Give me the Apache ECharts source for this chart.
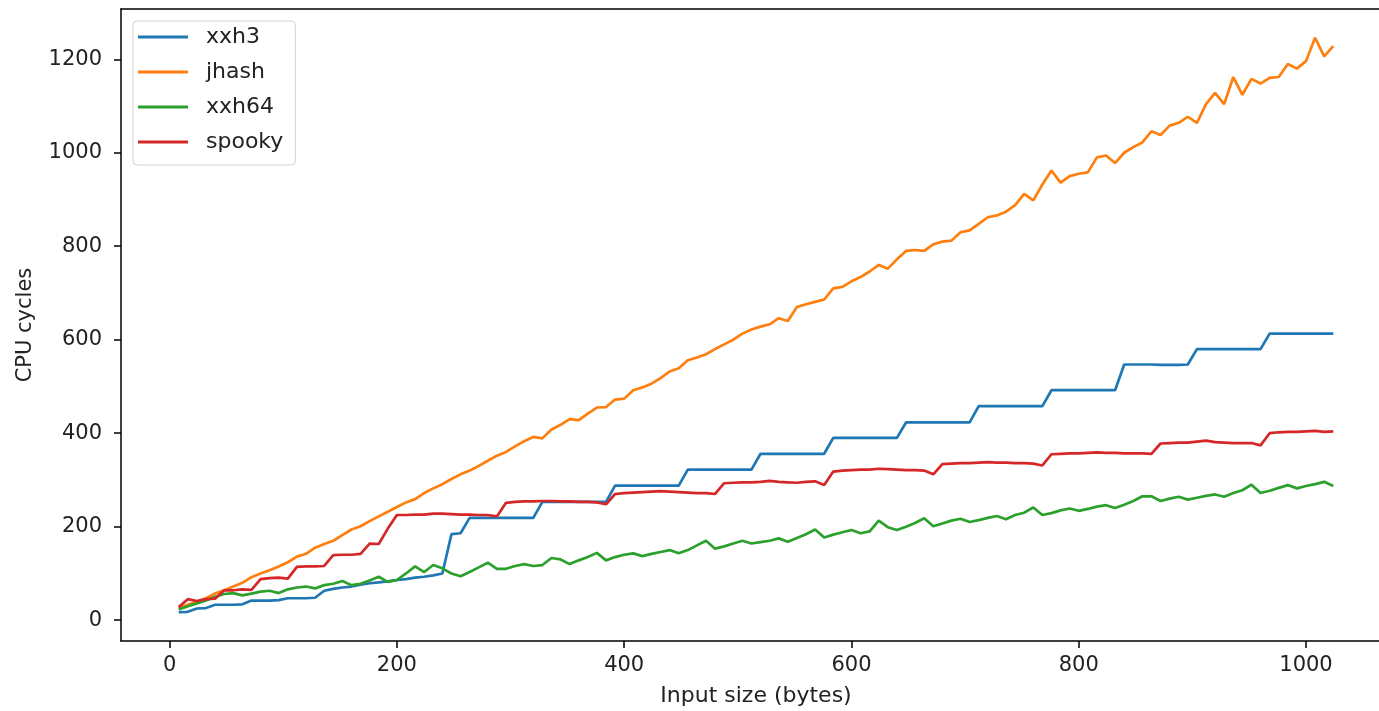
<!DOCTYPE html>
<html>
<head>
<meta charset="utf-8">
<script src="https://cdn.jsdelivr.net/npm/echarts@6/dist/echarts.min.js"></script>
<style>
html,body{margin:0;padding:0;background:#fff;}
#chart{width:1379px;height:711px;}
</style>
</head>
<body>
<div id="chart"></div>
<script>
const sizes = [8,16,24,32,40,48,56,64,72,80,88,96,104,112,120,128,136,144,152,160,168,176,184,192,200,208,216,224,232,240,248,256,264,272,280,288,296,304,312,320,328,336,344,352,360,368,376,384,392,400,408,416,424,432,440,448,456,464,472,480,488,496,504,512,520,528,536,544,552,560,568,576,584,592,600,608,616,624,632,640,648,656,664,672,680,688,696,704,712,720,728,736,744,752,760,768,776,784,792,800,808,816,824,832,840,848,856,864,872,880,888,896,904,912,920,928,936,944,952,960,968,976,984,992,1000,1008,1016,1024];

const xxh3 = [17,18,25,26,33,33,33,34,42,42,42,43,47,47,47,48,63,67,70,72,76,79,81,83,86,88,91,93,96,100,184,186,219,219,219,219,219,219,219,219,253,253,253,253,253,253,253,253,288,288,288,288,288,288,288,288,322,322,322,322,322,322,322,322,356,356,356,356,356,356,356,356,390,390,390,390,390,390,390,390,423,423,423,423,423,423,423,423,458,458,458,458,458,458,458,458,492,492,492,492,492,492,492,492,547,547,547,547,546,546,546,547,580,580,580,580,580,580,580,580,613,613,613,613,613,613,613,613];

const jhash = [25,33,40,47,57,64,72,80,92,100,107,115,124,136,142,155,163,170,182,194,201,212,222,232,242,252,259,272,282,291,302,312,320,330,341,352,360,372,383,392,389,408,418,430,428,442,455,456,472,474,492,498,506,518,532,539,556,562,569,580,590,600,613,622,628,633,646,640,670,676,681,686,710,713,725,734,746,760,752,772,790,792,790,804,810,812,830,834,848,862,866,874,888,912,898,932,962,936,950,955,958,990,994,978,1000,1012,1022,1046,1038,1058,1064,1077,1064,1104,1128,1104,1162,1124,1158,1148,1160,1162,1190,1180,1196,1246,1206,1228];

const xxh64 = [23,30,36,42,50,56,58,53,57,61,63,58,66,70,72,68,75,78,84,75,78,85,93,82,86,100,115,103,118,111,100,94,103,113,123,110,110,116,120,116,118,133,130,120,128,135,144,128,135,140,143,137,142,146,150,143,150,160,170,153,158,164,170,164,167,170,175,168,176,184,194,177,183,188,193,186,190,213,199,193,200,208,218,201,207,213,217,210,214,219,223,216,225,230,241,225,229,235,239,234,238,243,246,240,247,255,265,265,255,260,264,258,262,266,269,264,272,278,290,272,277,283,289,282,287,291,296,287];

const spooky = [28,45,41,45,46,64,64,66,65,88,90,91,89,114,115,115,116,139,140,140,142,164,163,196,225,225,226,226,228,228,227,226,226,225,225,222,251,253,254,254,255,255,254,254,253,253,252,248,270,272,273,274,275,276,275,274,273,272,272,270,293,294,295,295,296,298,296,295,294,296,297,289,318,320,321,322,322,324,323,322,321,321,320,312,334,335,336,336,337,338,337,337,336,336,335,331,355,356,357,357,358,359,358,358,357,357,357,356,378,379,380,380,382,384,381,380,379,379,379,374,400,402,403,403,404,405,403,404];

const seriesNames = ['xxh3','jhash','xxh64','spooky'];
const seriesValues = [xxh3, jhash, xxh64, spooky];
const seriesColors = ['#1f77b4','#ff7f0e','#2ca02c','#d62728'];
const xTicks = [0,200,400,600,800,1000];
const yTicks = [0,200,400,600,800,1000,1200];

const FONT = 'DejaVu Sans';
const chart = echarts.init(document.getElementById('chart'), null, {renderer:'canvas'});

const series = seriesNames.map((name, i) => ({
  name: name,
  type: 'line',
  xAxisIndex: 0, yAxisIndex: 0,
  data: sizes.map((x, j) => [x, seriesValues[i][j]]),
  symbol: 'none',
  showSymbol: false,
  lineStyle: {color: seriesColors[i], width: 2.7},
  itemStyle: {color: seriesColors[i]},
  emphasis: {disabled: true},
  z: 2
}));

const frameLine = {show: true, onZero: false, lineStyle: {color: '#000', width: 1.5}};

chart.setOption({
  animation: false,
  backgroundColor: '#fff',
  grid: {
    left: 121, top: 9, width: 1270, height: 632,
    outerBoundsMode: 'none',
    show: false,
    containLabel: false
  },
  legend: {
    show: true,
    orient: 'vertical',
    left: 133, top: 21,
    data: seriesNames,
    icon: 'rect',
    itemWidth: 50, itemHeight: 3,
    itemGap: 11,
    padding: [4, 12, 11, 5],
    backgroundColor: 'rgba(255,255,255,0.8)',
    borderColor: '#d0d0d0', borderWidth: 1, borderRadius: 4,
    textStyle: {fontFamily: FONT, fontSize: 22, color: '#222', lineHeight: 24, padding: [0,0,0,13]},
    selectedMode: false
  },
  xAxis: [{
    type: 'value',
    position: 'bottom',
    min: -42.8, max: 1074.8,
    name: 'Input size (bytes)',
    nameLocation: 'middle',
    nameGap: 44,
    nameTextStyle: {fontFamily: FONT, fontSize: 22, color: '#222'},
    axisLine: frameLine,
    axisTick: {show: true, customValues: xTicks, length: 7, lineStyle: {color: '#000', width: 1.5}},
    axisLabel: {customValues: xTicks, margin: 14, fontFamily: FONT, fontSize: 21, color: '#222',
      formatter: v => String(v)},
    splitLine: {show: false}
  }, {
    type: 'value',
    position: 'top',
    min: -42.8, max: 1074.8,
    axisLine: frameLine,
    axisTick: {show: false},
    axisLabel: {show: false},
    splitLine: {show: false}
  }],
  yAxis: {
    type: 'value',
    position: 'left',
    min: -44.5, max: 1307.5,
    name: 'CPU cycles',
    nameLocation: 'middle',
    nameGap: 85,
    nameTextStyle: {fontFamily: FONT, fontSize: 21, color: '#222'},
    axisLine: frameLine,
    axisTick: {show: true, customValues: yTicks, length: 7, lineStyle: {color: '#000', width: 1.5}},
    axisLabel: {customValues: yTicks, margin: 19, fontFamily: FONT, fontSize: 21, color: '#222',
      formatter: v => String(v)},
    splitLine: {show: false}
  },
  series: series
});
</script>
</body>
</html>
